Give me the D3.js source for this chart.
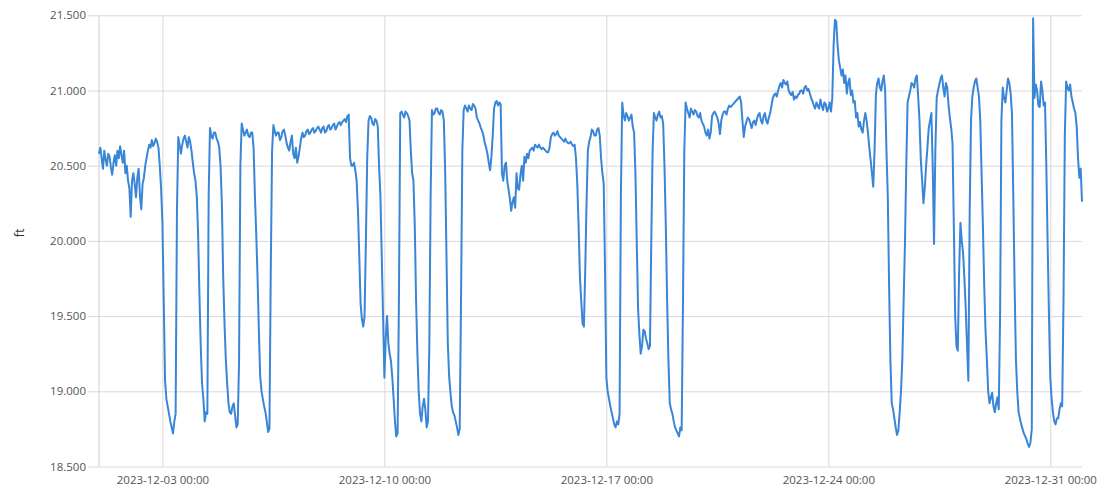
<!DOCTYPE html>
<html>
<head>
<meta charset="utf-8">
<script src="https://cdn.jsdelivr.net/npm/d3@7"></script>
<style>
  html, body { margin: 0; padding: 0; background: #ffffff; }
  svg { display: block; }
  text { font-family: "Open Sans", "Noto Sans", sans-serif; }
</style>
</head>
<body>
<svg id="chart" width="1099" height="491"></svg>
<script>
// ---- data ----
const seriesName = "ft";
const startTime = "2023-12-01T00:00:00";
const endTime = "2024-01-01T00:00:00";
const stepHours = 1;
// water level, one reading per hour, one row per day (Dec 1 .. Dec 31), plus the final reading
const levels = [
  20.58, 20.62, 20.55, 20.48, 20.60, 20.54, 20.50, 20.58, 20.56, 20.49, 20.44, 20.52, 20.57, 20.50, 20.60, 20.55, 20.63, 20.57, 20.52, 20.60, 20.45, 20.50, 20.40, 20.35,
  20.16, 20.40, 20.45, 20.38, 20.29, 20.42, 20.48, 20.30, 20.21, 20.38, 20.42, 20.50, 20.55, 20.60, 20.64, 20.62, 20.67, 20.63, 20.65, 20.68, 20.66, 20.62, 20.50, 20.35,
  20.12, 19.60, 19.07, 18.95, 18.90, 18.85, 18.80, 18.76, 18.72, 18.80, 18.85, 20.20, 20.69, 20.64, 20.58, 20.64, 20.68, 20.70, 20.66, 20.62, 20.69, 20.66, 20.60, 20.52,
  20.45, 20.40, 20.30, 20.05, 19.65, 19.30, 19.05, 18.95, 18.80, 18.86, 18.85, 20.30, 20.75, 20.70, 20.68, 20.72, 20.72, 20.68, 20.66, 20.62, 20.50, 20.25, 19.76, 19.45,
  19.21, 19.05, 18.92, 18.86, 18.85, 18.90, 18.92, 18.84, 18.76, 18.78, 19.20, 20.50, 20.78, 20.74, 20.70, 20.72, 20.74, 20.70, 20.69, 20.72, 20.72, 20.62, 20.30, 20.05,
  19.76, 19.40, 19.10, 19.00, 18.95, 18.90, 18.86, 18.80, 18.73, 18.75, 19.80, 20.60, 20.77, 20.73, 20.70, 20.72, 20.72, 20.67, 20.69, 20.73, 20.74, 20.70, 20.65, 20.62,
  20.60, 20.66, 20.70, 20.58, 20.55, 20.62, 20.52, 20.56, 20.62, 20.68, 20.72, 20.69, 20.70, 20.73, 20.74, 20.71, 20.72, 20.74, 20.75, 20.72, 20.73, 20.75, 20.76, 20.74,
  20.72, 20.75, 20.76, 20.72, 20.73, 20.76, 20.77, 20.74, 20.75, 20.77, 20.78, 20.74, 20.76, 20.78, 20.79, 20.77, 20.79, 20.80, 20.81, 20.79, 20.83, 20.84, 20.55, 20.50,
  20.50, 20.52, 20.47, 20.40, 20.20, 19.90, 19.58, 19.48, 19.43, 19.50, 20.00, 20.55, 20.80, 20.83, 20.82, 20.78, 20.77, 20.81, 20.80, 20.76, 20.49, 20.30, 19.90, 19.50,
  19.09, 19.35, 19.50, 19.32, 19.25, 19.20, 19.09, 18.95, 18.80, 18.70, 18.72, 19.60, 20.85, 20.86, 20.84, 20.82, 20.86, 20.85, 20.83, 20.80, 20.60, 20.45, 20.40, 20.10,
  19.60, 19.25, 18.99, 18.85, 18.80, 18.90, 18.95, 18.88, 18.76, 18.80, 19.30, 20.30, 20.87, 20.84, 20.85, 20.88, 20.88, 20.85, 20.84, 20.87, 20.86, 20.80, 20.47, 19.90,
  19.32, 19.10, 18.99, 18.90, 18.86, 18.84, 18.80, 18.76, 18.71, 18.75, 19.60, 20.60, 20.87, 20.90, 20.88, 20.86, 20.90, 20.88, 20.87, 20.91, 20.90, 20.88, 20.82, 20.80,
  20.78, 20.75, 20.73, 20.70, 20.65, 20.62, 20.58, 20.52, 20.47, 20.56, 20.70, 20.88, 20.92, 20.93, 20.90, 20.92, 20.91, 20.45, 20.40, 20.50, 20.52, 20.40, 20.34, 20.28,
  20.20, 20.26, 20.29, 20.22, 20.45, 20.35, 20.34, 20.44, 20.50, 20.40, 20.56, 20.52, 20.58, 20.55, 20.60, 20.61, 20.62, 20.60, 20.64, 20.63, 20.62, 20.64, 20.62, 20.61,
  20.62, 20.61, 20.60, 20.59, 20.59, 20.62, 20.69, 20.71, 20.72, 20.70, 20.71, 20.73, 20.70, 20.69, 20.68, 20.67, 20.66, 20.68, 20.66, 20.65, 20.65, 20.66, 20.64, 20.63,
  20.64, 20.55, 20.38, 20.10, 19.76, 19.60, 19.45, 19.43, 19.80, 20.25, 20.60, 20.66, 20.69, 20.74, 20.73, 20.70, 20.70, 20.74, 20.75, 20.70, 20.55, 20.45, 20.38, 19.80,
  19.09, 19.00, 18.95, 18.90, 18.86, 18.82, 18.78, 18.76, 18.80, 18.78, 18.85, 20.30, 20.92, 20.84, 20.80, 20.85, 20.83, 20.80, 20.82, 20.84, 20.76, 20.72, 20.45, 20.00,
  19.55, 19.38, 19.25, 19.30, 19.41, 19.40, 19.35, 19.32, 19.28, 19.30, 20.00, 20.60, 20.85, 20.82, 20.80, 20.84, 20.86, 20.82, 20.83, 20.78, 20.50, 20.10, 19.60, 19.20,
  18.92, 18.88, 18.85, 18.80, 18.76, 18.74, 18.72, 18.70, 18.76, 18.74, 19.60, 20.60, 20.92, 20.88, 20.85, 20.82, 20.88, 20.86, 20.84, 20.87, 20.86, 20.83, 20.82, 20.85,
  20.80, 20.78, 20.76, 20.72, 20.70, 20.74, 20.68, 20.72, 20.83, 20.85, 20.86, 20.84, 20.82, 20.78, 20.71, 20.80, 20.84, 20.86, 20.86, 20.84, 20.88, 20.90, 20.89, 20.90,
  20.91, 20.92, 20.93, 20.94, 20.95, 20.96, 20.92, 20.80, 20.69, 20.76, 20.79, 20.82, 20.81, 20.78, 20.75, 20.79, 20.80, 20.77, 20.81, 20.84, 20.85, 20.80, 20.78, 20.83,
  20.85, 20.80, 20.78, 20.82, 20.85, 20.90, 20.95, 20.97, 20.98, 20.96, 21.00, 21.03, 21.05, 21.02, 21.07, 21.05, 21.04, 21.06, 21.00, 20.98, 20.97, 20.99, 20.94, 20.96,
  20.95, 20.97, 20.98, 21.00, 21.00, 20.98, 21.02, 21.03, 21.00, 21.01, 20.98, 20.95, 20.93, 20.90, 20.88, 20.92, 20.90, 20.88, 20.94, 20.90, 20.87, 20.92, 20.91, 20.86,
  20.88, 20.92, 20.86, 20.95, 21.30, 21.47, 21.46, 21.30, 21.20, 21.15, 21.10, 21.14, 21.05, 21.10, 20.98, 21.05, 21.08, 20.97, 21.00, 20.92, 20.93, 20.82, 20.85, 20.76,
  20.79, 20.74, 20.72, 20.80, 20.85, 20.80, 20.72, 20.62, 20.54, 20.45, 20.36, 20.60, 20.97, 21.05, 21.08, 21.02, 21.00, 21.06, 21.10, 21.00, 20.60, 20.30, 19.70, 19.20,
  18.92, 18.88, 18.82, 18.76, 18.71, 18.74, 18.86, 19.00, 19.21, 19.60, 19.98, 20.50, 20.92, 20.96, 21.00, 21.05, 21.04, 21.02, 21.08, 21.10, 20.96, 20.80, 20.54, 20.40,
  20.25, 20.35, 20.50, 20.62, 20.75, 20.80, 20.85, 20.50, 19.98, 20.60, 20.95, 21.00, 21.04, 21.08, 21.10, 21.02, 20.96, 21.05, 21.02, 20.90, 20.82, 20.75, 20.65, 20.10,
  19.50, 19.30, 19.27, 19.80, 20.12, 20.00, 19.92, 19.75, 19.55, 19.30, 19.07, 20.20, 20.80, 20.96, 21.02, 21.06, 21.08, 21.02, 20.96, 20.80, 20.45, 20.10, 19.70, 19.40,
  19.21, 19.00, 18.92, 18.96, 18.99, 18.90, 18.86, 18.92, 18.96, 18.88, 19.50, 20.80, 21.02, 20.95, 20.92, 21.00, 21.08, 21.05, 20.98, 20.85, 20.30, 19.70, 19.21, 19.00,
  18.86, 18.82, 18.78, 18.75, 18.72, 18.70, 18.68, 18.65, 18.63, 18.66, 18.75, 21.48, 20.95, 21.04, 21.00, 20.90, 20.89, 21.06, 21.00, 20.90, 20.92, 20.50, 19.98, 19.50,
  19.09, 18.95, 18.86, 18.80, 18.78, 18.82, 18.82, 18.88, 18.92, 18.90, 19.60, 20.70, 21.06, 21.02, 21.00, 21.04, 20.96, 20.92, 20.88, 20.85, 20.76, 20.55, 20.42, 20.48,
  20.26
];
const yTicks = [18.5, 19.0, 19.5, 20.0, 20.5, 21.0, 21.5];
const xTickLabels = ["2023-12-03 00:00", "2023-12-10 00:00", "2023-12-17 00:00", "2023-12-24 00:00", "2023-12-31 00:00"];

// ---- build ----
const parseLabel = d3.timeParse("%Y-%m-%d %H:%M");
const parseIso = d3.timeParse("%Y-%m-%dT%H:%M:%S");
const t0 = parseIso(startTime);
const data = levels.map((v, i) => ({ t: d3.timeHour.offset(t0, i * stepHours), v }));
const xTicks = xTickLabels.map(parseLabel);

const svg = d3.select("#chart");
const plotL = 99, plotR = 1082, plotT = 15.3, plotB = 466.5;

const x = d3.scaleTime().domain([t0, parseIso(endTime)]).range([plotL, plotR]);
const y = d3.scaleLinear().domain([18.5, 21.5]).range([plotB, plotT]);

const gridColor = "#d9d9d9";

// horizontal grid + y ticks
const yAxis = d3.axisLeft(y).tickValues(yTicks).tickFormat(d3.format(".3f"))
  .tickSize(-(plotR - plotL)).tickPadding(14);
const gy = svg.append("g").attr("transform", `translate(${plotL},0)`).call(yAxis);
gy.select(".domain").remove();
gy.selectAll(".tick line").attr("stroke", gridColor).attr("stroke-width", 1).attr("x1", -11);
gy.selectAll(".tick text").attr("fill", "#555").attr("font-size", 11.5).attr("x", -13);

// vertical grid + x labels
const xAxis = d3.axisBottom(x).tickValues(xTicks).tickFormat(d3.timeFormat("%Y-%m-%d %H:%M"))
  .tickSize(-(plotB - plotT)).tickPadding(9);
const gx = svg.append("g").attr("transform", `translate(0,${plotB})`).call(xAxis);
gx.select(".domain").remove();
gx.selectAll(".tick line").attr("stroke", gridColor).attr("stroke-width", 1);
gx.selectAll(".tick text").attr("fill", "#555").attr("font-size", 11.5);

// left axis line
svg.append("line").attr("x1", plotL).attr("x2", plotL).attr("y1", plotT).attr("y2", plotB)
  .attr("stroke", "#cfcfcf").attr("stroke-width", 1);

// axis title
svg.append("text")
  .attr("transform", `translate(21,${(plotT + plotB) / 2 - 8}) rotate(-90)`)
  .attr("text-anchor", "middle").attr("dominant-baseline", "middle")
  .attr("font-size", 12.5).attr("fill", "#333").text(seriesName);

// line
const line = d3.line().x(d => x(d.t)).y(d => y(d.v));
svg.append("path").datum(data)
  .attr("fill", "none").attr("stroke", "#3a86d6").attr("stroke-width", 2)
  .attr("stroke-linejoin", "round").attr("d", line);
</script>
</body>
</html>
